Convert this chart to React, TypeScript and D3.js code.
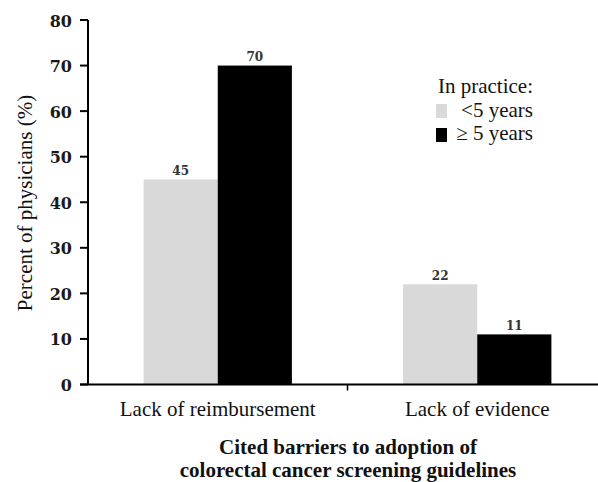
import React from "react";
import * as d3 from "d3";

const categories = ["Lack of reimbursement", "Lack of evidence"];
const seriesNames = ["<5 years", "\u2265 5 years"];
const lessThan5 = [45, 22];
const atLeast5 = [70, 11];
const yTicks = [0, 10, 20, 30, 40, 50, 60, 70, 80];

const colors = ["#d9d9d9", "#000000"];

export default function App() {
  const W = 598;
  const H = 482;
  const x = d3.scaleBand<string>().domain(categories).range([88, 607]).padding(0);
  const xInner = d3
    .scaleBand<string>()
    .domain(seriesNames)
    .range([0, x.bandwidth()])
    .paddingInner(0)
    .paddingOuter(0.75);
  const y = d3.scaleLinear().domain([0, 80]).range([384.5, 20]);

  const values = [lessThan5, atLeast5];
  const serif = "'Liberation Serif', 'Times New Roman', serif";
  const numFont = "'DejaVu Serif', serif";

  return (
    <svg
      width={W}
      height={H}
      style={{ position: "absolute", left: 0, top: 0, background: "#fff" }}
    >
      {/* bars with value labels */}
      {categories.map((c, ci) =>
        seriesNames.map((s, si) => {
          const v = values[si][ci];
          const bx = (x(c) ?? 0) + (xInner(s) ?? 0);
          const bw = xInner.bandwidth();
          return (
            <g key={c + s}>
              <rect x={bx} y={y(v)} width={bw} height={y(0) - y(v)} fill={colors[si]} />
              <text
                x={bx + bw / 2}
                y={y(v) - 4.5}
                textAnchor="middle"
                fontFamily={numFont}
                fontWeight="bold"
                fontSize={12}
                fill="#333"
              >
                {v}
              </text>
            </g>
          );
        })
      )}

      {/* y axis */}
      <line x1={88} x2={88} y1={y(80)} y2={y(0)} stroke="#000" strokeWidth={2} />
      {yTicks.map((t) => (
        <g key={t}>
          <line x1={80} x2={88} y1={y(t)} y2={y(t)} stroke="#000" strokeWidth={2} />
          <text
            x={72}
            y={y(t) + 6.5}
            textAnchor="end"
            fontFamily={numFont}
            fontWeight="bold"
            fontSize={16}
            fill="#1a1a1a"
          >
            {t}
          </text>
        </g>
      ))}

      {/* x axis */}
      <line x1={80} x2={607} y1={y(0)} y2={y(0)} stroke="#000" strokeWidth={2} />
      {categories.slice(1).map((c) => (
        <line key={c} x1={x(c)} x2={x(c)} y1={y(0)} y2={y(0) + 6} stroke="#000" strokeWidth={1.5} />
      ))}
      {categories.map((c) => (
        <text
          key={c}
          x={(x(c) ?? 0) + x.bandwidth() / 2}
          y={415.5}
          textAnchor="middle"
          fontFamily={serif}
          fontSize={21}
          fill="#111"
        >
          {c}
        </text>
      ))}

      {/* axis titles */}
      <text
        transform={`translate(32, 203) rotate(-90)`}
        textAnchor="middle"
        fontFamily={serif}
        fontSize={21}
        fill="#111"
      >
        Percent of physicians (%)
      </text>
      <text x={348} y={454} textAnchor="middle" fontFamily={serif} fontWeight="bold" fontSize={21} fill="#111">
        Cited barriers to adoption of
      </text>
      <text x={348} y={476.5} textAnchor="middle" fontFamily={serif} fontWeight="bold" fontSize={21} fill="#111">
        colorectal cancer screening guidelines
      </text>

      {/* legend */}
      <text x={533} y={92.5} textAnchor="end" fontFamily={serif} fontSize={21} fill="#111">
        In practice:
      </text>
      {seriesNames.map((s, i) => (
        <g key={s}>
          <rect x={436} y={104 + i * 24} width={11} height={14} fill={colors[i]} />
          <text x={533} y={116.5 + i * 23.5} textAnchor="end" fontFamily={serif} fontSize={21} fill="#111">
            {s}
          </text>
        </g>
      ))}
    </svg>
  );
}
